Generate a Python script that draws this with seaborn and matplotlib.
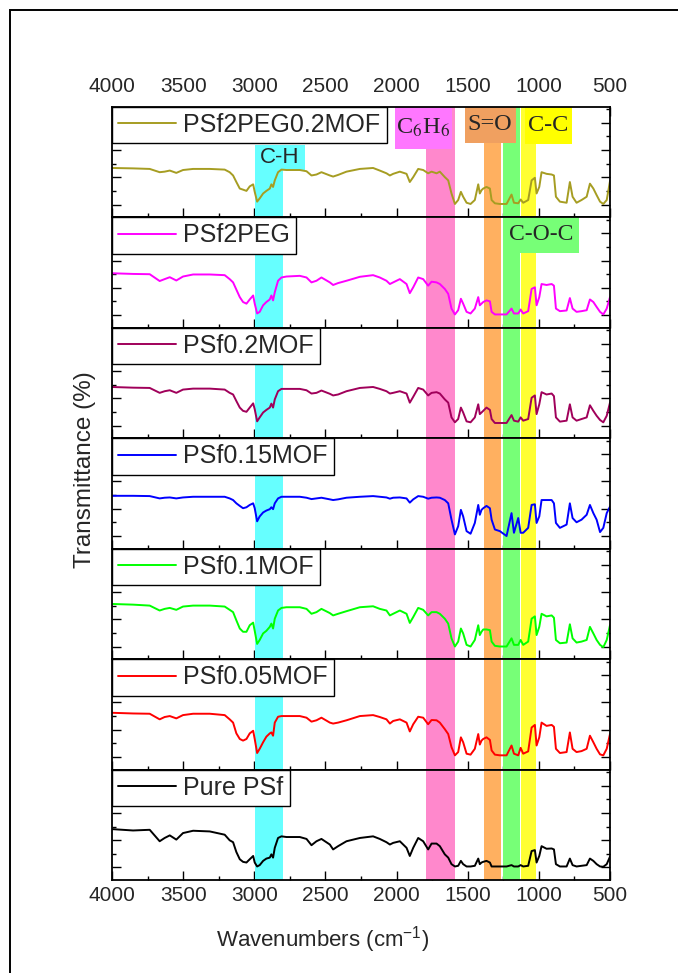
import matplotlib
matplotlib.use("Agg")
import matplotlib.pyplot as plt
from matplotlib.patches import Rectangle
from matplotlib.ticker import MultipleLocator
import pandas as pd
import seaborn as sns

# wavenumbers (cm-1), shared by all spectra
wavenumber = [4000, 3852, 3735, 3665, 3630, 3594, 3548, 3501, 3430, 3313,
              3208, 3173, 3149, 3126, 3102, 3079, 3055, 3032, 3008, 2997,
              2980, 2962, 2938, 2915, 2891, 2880, 2868, 2856, 2833, 2809,
              2774, 2680, 2633, 2598, 2563, 2528, 2469, 2446, 2411, 2352,
              2258, 2165, 2118, 2071, 2047, 2024, 1977, 1930, 1907, 1883,
              1848, 1813, 1778, 1754, 1719, 1696, 1661, 1637, 1614, 1590,
              1567, 1548, 1532, 1508, 1480, 1450, 1426, 1415, 1403, 1391,
              1368, 1344, 1332, 1309, 1274, 1227, 1192, 1175, 1145, 1128,
              1110, 1075, 1051, 1028, 1016, 997, 981, 946, 910, 894,
              880, 852, 805, 782, 763, 735, 700, 664, 641, 617,
              594, 570, 547, 523, 500]

# transmittance (%) of each membrane
psf_peg_mof = [66.9, 66.6, 66.2, 63.8, 64.2, 65.0, 63.3, 65.4, 66.2, 66.2,
               65.7, 63.8, 61.4, 56.6, 51.8, 51.0, 50.1, 53.4, 54.9, 49.4,
               42.2, 44.6, 48.2, 50.1, 51.8, 54.9, 53.0, 57.8, 63.8, 65.7,
               65.4, 65.4, 64.5, 61.4, 62.1, 63.8, 61.4, 60.6, 61.8, 64.2,
               66.2, 66.9, 65.0, 63.0, 61.4, 62.6, 64.2, 62.6, 56.6, 60.2,
               66.2, 65.4, 63.0, 64.2, 63.0, 64.2, 60.2, 57.8, 48.2, 40.5,
               43.4, 49.4, 45.8, 41.4, 40.5, 43.4, 54.9, 48.2, 50.6, 51.8,
               53.0, 51.8, 43.4, 41.0, 40.5, 40.5, 47.4, 41.4, 41.0, 43.8,
               41.4, 43.4, 57.8, 59.7, 48.2, 53.0, 63.8, 62.6, 62.1, 61.4,
               45.8, 42.2, 41.4, 56.6, 45.8, 41.4, 43.4, 45.8, 55.4, 51.8,
               47.0, 42.2, 40.5, 43.4, 57.3]
psf_peg = [70.7, 70.2, 70.0, 65.0, 66.4, 67.8, 65.4, 68.3, 69.8, 69.8,
           69.3, 66.4, 64.0, 58.7, 53.2, 49.6, 48.4, 51.5, 54.4, 48.4,
           41.2, 42.4, 47.2, 49.6, 51.5, 54.4, 50.8, 56.8, 65.2, 67.6,
           68.3, 68.8, 67.6, 64.0, 65.2, 67.6, 64.0, 62.1, 63.5, 65.2,
           68.1, 69.3, 67.6, 65.2, 62.8, 64.0, 66.4, 62.8, 56.1, 60.4,
           67.6, 66.4, 61.6, 64.5, 64.0, 62.8, 59.2, 55.6, 44.8, 40.5,
           43.6, 52.0, 48.4, 42.4, 41.2, 44.8, 53.2, 47.2, 48.4, 49.6,
           50.8, 50.1, 42.4, 40.5, 40.5, 40.5, 44.8, 41.2, 41.2, 44.1,
           41.2, 42.9, 59.2, 60.4, 47.2, 53.2, 62.8, 62.1, 62.8, 61.6,
           44.8, 42.9, 43.4, 52.5, 44.8, 42.4, 42.9, 43.6, 51.5, 49.6,
           46.0, 42.4, 40.5, 44.8, 53.2]
psf_02mof = [68.3, 67.8, 67.6, 64.0, 65.2, 65.9, 64.0, 66.4, 67.1, 67.1,
             66.4, 64.0, 62.8, 58.0, 53.2, 50.8, 50.1, 53.2, 56.3, 52.0,
             43.1, 46.0, 49.6, 51.5, 53.2, 56.1, 53.2, 59.2, 65.2, 66.9,
             66.9, 66.9, 65.9, 63.5, 64.0, 65.7, 63.3, 62.1, 62.8, 65.2,
             67.6, 68.3, 66.9, 65.2, 63.5, 64.0, 65.2, 63.5, 56.8, 61.1,
             67.6, 66.4, 62.1, 64.0, 64.5, 63.5, 59.2, 56.8, 46.0, 42.4,
             44.8, 53.2, 49.6, 43.1, 42.4, 46.0, 55.6, 48.4, 49.6, 50.8,
             53.2, 51.5, 44.8, 41.9, 41.9, 41.9, 47.7, 43.6, 42.9, 46.0,
             43.6, 44.8, 60.4, 62.1, 48.4, 55.6, 64.5, 62.8, 63.5, 61.6,
             46.0, 42.9, 43.6, 55.6, 46.0, 43.6, 44.8, 46.0, 54.9, 50.8,
             47.2, 44.1, 42.4, 47.2, 56.8]
psf_015mof = [69.5, 69.5, 69.3, 67.6, 68.1, 68.3, 67.6, 68.3, 68.8, 68.8,
              68.8, 67.6, 66.4, 64.0, 62.1, 60.4, 61.1, 62.8, 64.0, 60.4,
              50.8, 54.4, 57.3, 58.7, 59.7, 61.1, 59.7, 64.0, 67.6, 68.8,
              68.8, 68.8, 68.1, 67.1, 67.6, 68.1, 66.9, 66.4, 66.9, 68.1,
              68.8, 69.3, 68.8, 68.3, 67.4, 68.1, 68.3, 67.6, 64.5, 66.9,
              69.3, 68.8, 67.4, 68.1, 68.3, 68.1, 66.4, 64.0, 52.0, 41.2,
              47.2, 59.2, 54.4, 43.6, 41.7, 49.6, 62.8, 55.6, 59.2, 60.4,
              62.1, 60.4, 52.0, 44.8, 43.6, 40.0, 56.8, 42.4, 53.2, 42.4,
              42.4, 46.0, 62.8, 63.3, 49.6, 54.4, 66.4, 66.4, 66.4, 64.0,
              49.6, 46.0, 48.4, 64.0, 53.2, 50.1, 52.0, 55.6, 62.8, 56.8,
              52.0, 42.9, 46.0, 56.8, 61.6]
psf_01mof = [71.2, 70.7, 70.0, 66.4, 67.6, 68.3, 66.9, 69.3, 70.0, 70.0,
             69.3, 66.9, 65.2, 59.2, 53.2, 50.8, 50.8, 55.6, 57.5, 51.5,
             41.9, 44.8, 49.6, 51.5, 54.4, 56.8, 53.2, 60.4, 66.4, 68.3,
             68.8, 68.8, 67.6, 64.0, 65.2, 67.6, 64.5, 62.8, 64.0, 65.9,
             68.8, 69.5, 67.6, 66.4, 62.8, 64.0, 66.4, 64.0, 57.3, 61.6,
             68.3, 66.9, 62.8, 65.2, 65.2, 64.0, 60.4, 56.8, 46.0, 40.0,
             43.6, 53.2, 49.6, 41.2, 40.0, 44.8, 55.6, 48.4, 50.8, 52.5,
             52.5, 52.0, 43.6, 40.5, 40.0, 40.0, 46.0, 41.2, 41.2, 44.8,
             41.2, 43.6, 60.4, 62.1, 48.4, 54.4, 64.0, 62.1, 62.8, 61.1,
             44.8, 42.4, 42.9, 56.3, 46.0, 42.9, 43.6, 44.8, 54.4, 49.6,
             44.8, 41.2, 39.5, 44.8, 55.6]
psf_005mof = [72.4, 71.9, 71.7, 67.6, 69.3, 70.0, 68.3, 70.7, 71.7, 71.7,
              70.7, 67.6, 65.2, 57.3, 53.2, 52.0, 53.2, 57.3, 59.2, 53.2,
              42.9, 46.0, 50.8, 54.9, 57.3, 58.0, 55.6, 65.2, 69.5, 70.0,
              70.0, 70.0, 68.8, 65.9, 66.9, 68.8, 65.2, 64.5, 65.2, 66.9,
              70.0, 70.7, 69.3, 67.6, 64.5, 66.4, 67.6, 65.2, 58.7, 64.0,
              69.5, 68.8, 64.0, 67.1, 66.9, 65.2, 60.4, 56.8, 47.2, 41.2,
              43.6, 54.4, 50.8, 42.4, 41.7, 46.0, 56.8, 49.1, 52.0, 53.2,
              54.4, 52.5, 44.8, 41.7, 41.2, 41.2, 48.4, 42.4, 41.2, 46.7,
              42.4, 44.1, 61.6, 63.5, 48.4, 54.4, 65.2, 62.8, 63.5, 62.1,
              46.0, 42.9, 43.6, 58.0, 46.0, 43.6, 44.3, 46.0, 55.6, 50.8,
              46.0, 41.9, 41.2, 46.0, 56.8]
pure_psf = [68.1, 67.1, 67.6, 59.2, 61.6, 63.5, 60.4, 65.2, 66.9, 66.4,
            64.0, 59.9, 58.5, 51.3, 46.0, 44.1, 43.6, 46.0, 48.4, 43.6,
            40.7, 41.7, 44.8, 46.5, 47.2, 49.6, 47.2, 54.4, 61.6, 62.8,
            62.3, 62.3, 60.9, 56.3, 59.2, 60.9, 56.8, 53.2, 55.6, 59.2,
            61.6, 62.8, 60.9, 58.5, 56.8, 58.0, 59.2, 54.4, 48.4, 54.4,
            61.6, 59.2, 53.2, 57.5, 57.5, 55.6, 49.6, 47.2, 42.4, 40.7,
            41.2, 44.8, 42.4, 40.7, 40.7, 41.2, 46.5, 42.4, 43.6, 44.1,
            44.8, 43.6, 40.7, 40.7, 40.7, 40.7, 41.7, 40.7, 40.7, 41.7,
            40.7, 41.2, 52.0, 52.7, 43.6, 48.4, 55.6, 53.7, 53.9, 53.2,
            42.4, 40.7, 40.7, 46.5, 41.7, 40.7, 41.2, 41.7, 46.5, 44.8,
            42.4, 40.7, 40.5, 42.4, 47.9]

names = ['PSf2PEG0.2MOF', 'PSf2PEG', 'PSf0.2MOF', 'PSf0.15MOF',
         'PSf0.1MOF', 'PSf0.05MOF', 'Pure PSf']
spectra = [psf_peg_mof, psf_peg, psf_02mof, psf_015mof,
           psf_01mof, psf_005mof, pure_psf]
colors = ['#a69d22', '#ff00ff', '#a0005a', '#0000ff', '#00ff00', '#ff0000', '#000000']

# absorption bands (from, to in cm-1)
band_ranges = [(2993, 2800), (1790, 1590), (1385, 1265), (1250, 1136), (1122, 1020)]
band_colors = ['#66ffff', '#ff88cc', '#ffb060', '#77ff77', '#ffff33']

sns.set_theme(style='ticks')
plt.rcParams['font.family'] = ['Liberation Sans', 'DejaVu Sans']
plt.rcParams['mathtext.fontset'] = 'custom'
plt.rcParams['mathtext.rm'] = 'Liberation Sans'
plt.rcParams['mathtext.it'] = 'Liberation Sans:italic'

fig, axes = plt.subplots(7, 1, figsize=(6.78, 9.73), dpi=100, sharex=True)
fig.subplots_adjust(left=0.1652, right=0.8997, top=0.8903, bottom=0.0956, hspace=0)

for i, ax in enumerate(axes):
    df = pd.DataFrame({'wn': wavenumber, 'T': spectra[i]})
    sns.lineplot(data=df, x='wn', y='T', ax=ax, color=colors[i], lw=1.4,
                 sort=False, estimator=None, zorder=3)
    for (a, b), c in zip(band_ranges, band_colors):
        top = 1.0
        if i == 0 and c == '#66ffff':
            top = 0.654
        ax.axvspan(b, a, ymin=0, ymax=top, color=c, lw=0, zorder=1)

    ax.set_xlim(4000, 500)
    ax.set_ylim(30.8, 111.8)
    ax.xaxis.set_major_locator(MultipleLocator(500))
    ax.xaxis.set_minor_locator(MultipleLocator(250))
    ax.yaxis.set_major_locator(MultipleLocator(20))
    ax.yaxis.set_minor_locator(MultipleLocator(10))
    ax.tick_params(which='both', direction='in', left=True, right=True,
                   labelleft=False, width=1.0, color='black')
    ax.tick_params(which='major', length=6.5)
    ax.tick_params(which='minor', length=3)
    ax.tick_params(axis='x', labelsize=15, labelbottom=False, top=(i == 0))
    ax.set_xlabel('')
    ax.set_ylabel('')
    for s in ax.spines.values():
        s.set_linewidth(1.3)
        s.set_color('black')
        s.set_zorder(6)

    leg = ax.legend(handles=ax.lines[:1], labels=[names[i]], loc='upper left',
                    bbox_to_anchor=(0, 1), borderaxespad=0, fontsize=18,
                    frameon=True, fancybox=False, edgecolor='black', facecolor='white',
                    framealpha=1, borderpad=0.25, handlelength=2.3, handletextpad=0.3)
    leg.get_frame().set_linewidth(1.0)
    leg.set_zorder(5)

axes[0].tick_params(axis='x', labeltop=True, pad=7.6)
axes[-1].tick_params(axis='x', labelbottom=True, pad=4.3)


def label_box(ax, text, x0, x1, y0, y1, color, size, family):
    ax.add_patch(Rectangle((x1, y0), x0 - x1, y1 - y0, transform=ax.get_xaxis_transform(),
                           facecolor=color, edgecolor='none', zorder=1.5))
    ax.text((x0 + x1) / 2, (y0 + y1) / 2, text, transform=ax.get_xaxis_transform(),
            ha='center', va='center', fontsize=size, family=family,
            math_fontfamily='stix', zorder=4)


label_box(axes[0], 'C-H', 2993, 2645, 0.428, 0.654, '#66ffff', 16, 'Liberation Sans')
label_box(axes[0], 'C$_6$H$_6$', 2012, 1610, 0.618, 1.0, '#ff77ff', 17.5, 'Liberation Serif')
label_box(axes[0], 'S=O', 1521, 1164, 0.674, 1.0, '#f0a060', 17.5, 'Liberation Serif')
label_box(axes[0], 'C-C', 1100, 766, 0.663, 1.0, '#ffff00', 17.5, 'Liberation Serif')
label_box(axes[1], 'C-O-C', 1250, 720, 0.679, 1.0, '#77ff77', 17, 'Liberation Serif')

fig.text(323 / 678, 1 - 940 / 973, 'Wavenumbers (cm$^{-1}$)', ha='center', va='center', fontsize=16)
fig.text(85 / 678, 0.517, 'Transmittance (%)', rotation=90, ha='center', va='center', fontsize=17.5)

fig.add_artist(Rectangle((10 / 678, -1), 5, 1 - 10 / 973 + 1, transform=fig.transFigure,
                         fill=False, edgecolor='black', linewidth=1.4))

fig.savefig('out.png', dpi=100)
